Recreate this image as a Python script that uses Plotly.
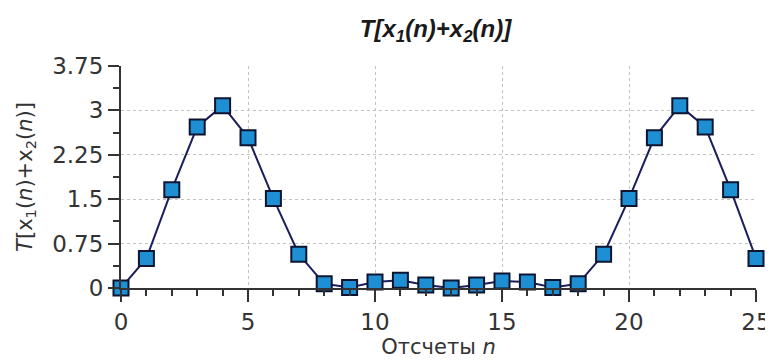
import plotly.graph_objects as go

n_vals = list(range(26))
t_vals = [0.0, 0.5, 1.66, 2.72, 3.08, 2.54, 1.51, 0.57, 0.07, 0.01,
          0.10, 0.13, 0.05, 0.0, 0.05, 0.12, 0.10, 0.01, 0.07, 0.57,
          1.51, 2.54, 3.08, 2.72, 1.66, 0.5]
x_ticks = [0, 5, 10, 15, 20, 25]
y_ticks = [0, 0.75, 1.5, 2.25, 3, 3.75]
y_tick_labels = ["0", "0.75", "1.5", "2.25", "3", "3.75"]

FONT = "DejaVu Sans, Liberation Sans, Arial, sans-serif"
TFONT = "Liberation Sans, Arial, sans-serif"

fig = go.Figure()
fig.add_trace(go.Scatter(
    x=n_vals, y=t_vals, mode="lines+markers",
    line=dict(color="#1b1d5c", width=2),
    marker=dict(symbol="square", size=15, color="#1f8fd3",
                line=dict(color="#0d1530", width=2)),
    cliponaxis=False, showlegend=False,
))

# page body has an 8px margin, so offsets compensate for it
fig.update_layout(
    width=773, height=360,
    margin=dict(l=113, r=25, t=58, b=80, autoexpand=False),
    paper_bgcolor="white", plot_bgcolor="white",
    font=dict(family=FONT, color="#333333"),
    title=dict(text="<b><i>T[x<sub>1</sub>(n)+x<sub>2</sub>(n)]</i></b>",
               x=0.553, xanchor="center", y=0.944, yanchor="middle",
               font=dict(size=24, color="#1a1a1a", family=TFONT)),
    xaxis=dict(
        range=[0, 25], tickvals=x_ticks, ticks="outside", ticklen=12,
        tickwidth=2, tickcolor="#333333", automargin=False,
        showline=True, linecolor="#333333", linewidth=2,
        showgrid=True, gridcolor="#c2c2c2", griddash="dot", gridwidth=1,
        zeroline=False, tickfont=dict(size=23, color="#333333"),
        minor=dict(dtick=1, ticks="outside", ticklen=6, tickwidth=2,
                   tickcolor="#333333", showgrid=False),
        title=dict(text="Отсчеты <i>n</i>", font=dict(size=21, color="#333333"),
                   standoff=0),
    ),
    yaxis=dict(
        range=[0, 3.75], tickvals=y_ticks, ticktext=y_tick_labels,
        ticks="outside", ticklen=11, tickwidth=2, tickcolor="#333333",
        automargin=False,
        showline=True, linecolor="#333333", linewidth=2,
        showgrid=True, gridcolor="#c2c2c2", griddash="dot", gridwidth=1,
        zeroline=False, tickfont=dict(size=23, color="#333333"),
        minor=dict(tickvals=[0.375, 1.125, 1.875, 2.625, 3.375], ticks="outside",
                   ticklen=6, tickwidth=2, tickcolor="#333333", showgrid=False),
        title=dict(text="<i>T</i>[x<sub>1</sub>(<i>n</i>)+x<sub>2</sub>(<i>n</i>)]",
                   font=dict(size=21, color="#333333"), standoff=14),
    ),
)

fig.write_html("out.html")
